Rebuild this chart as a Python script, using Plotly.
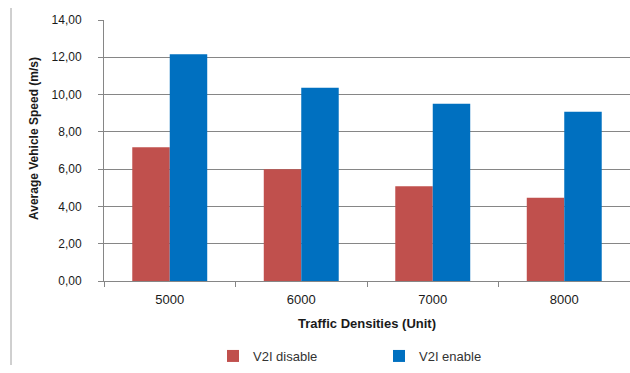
import plotly.graph_objects as go

categories = ["5000", "6000", "7000", "8000"]
v2i_disable = [7.17, 6.00, 5.08, 4.47]
v2i_enable = [12.16, 10.37, 9.51, 9.08]
y_ticks = [0, 2, 4, 6, 8, 10, 12, 14]

W, H = 630, 373
L, R, T, B = 104, 0, 20, 92
PW, PH = W - L - R, H - T - B

fig = go.Figure()
fig.add_trace(go.Bar(name="V2I disable", x=categories, y=v2i_disable,
                     marker=dict(color="#C0504D", line=dict(width=0))))
fig.add_trace(go.Bar(name="V2I enable", x=categories, y=v2i_enable,
                     marker=dict(color="#0070C0", line=dict(width=0))))

font = "Liberation Sans"
txt = "#1a1a1a"
fig.update_layout(
    width=W, height=H,
    margin=dict(l=L, r=R, t=T, b=B, pad=0, autoexpand=False),
    paper_bgcolor="white", plot_bgcolor="white",
    barmode="group", bargap=0.43, bargroupgap=0,
    separators=",.",
    font=dict(family=font, size=12, color=txt),
    showlegend=True,
    legend=dict(orientation="h", xref="container", yref="container",
                x=213 / W, xanchor="left", y=(H - 356) / H, yanchor="middle",
                entrywidth=121, entrywidthmode="pixels",
                font=dict(family=font, size=13, color="#333333"),
                itemwidth=30, tracegroupgap=0),
)
fig.update_xaxes(
    type="category", showgrid=False, showline=True, linecolor="#868686", linewidth=1,
    ticks="outside", tickson="boundaries", ticklen=5, tickcolor="#868686",
    ticklabelstandoff=6, automargin=False,
    tickfont=dict(family=font, size=13, color=txt),
    title=dict(text="<b>Traffic Densities (Unit)</b>", standoff=13,
               font=dict(family=font, size=13, color=txt)),
)
fig.update_yaxes(
    range=[0, 14], tickvals=y_ticks, tickformat=".2f",
    showgrid=True, gridcolor="#868686", gridwidth=1,
    showline=True, linecolor="#868686", linewidth=1,
    ticks="outside", ticklen=5, tickcolor="#868686",
    ticklabelstandoff=14, automargin=False,
    tickfont=dict(family=font, size=12, color=txt),
    zeroline=False,
)
fig.add_annotation(text="<b>Average Vehicle Speed (m/s)</b>", textangle=-90,
                   xref="paper", yref="paper",
                   x=(34 - L) / PW, y=(H - B - 139) / PH,
                   xanchor="center", yanchor="middle", showarrow=False,
                   font=dict(family=font, size=12, color=txt))
fig.add_shape(type="line", xref="paper", yref="paper",
              x0=(11 - L) / PW, x1=(11 - L) / PW,
              y0=(H - B - 8) / PH, y1=(H - B - 365) / PH,
              line=dict(color="#A0A0A0", width=1))

fig.write_html("out.html", config={"displayModeBar": False},
               post_script="document.body.style.margin='0';")
